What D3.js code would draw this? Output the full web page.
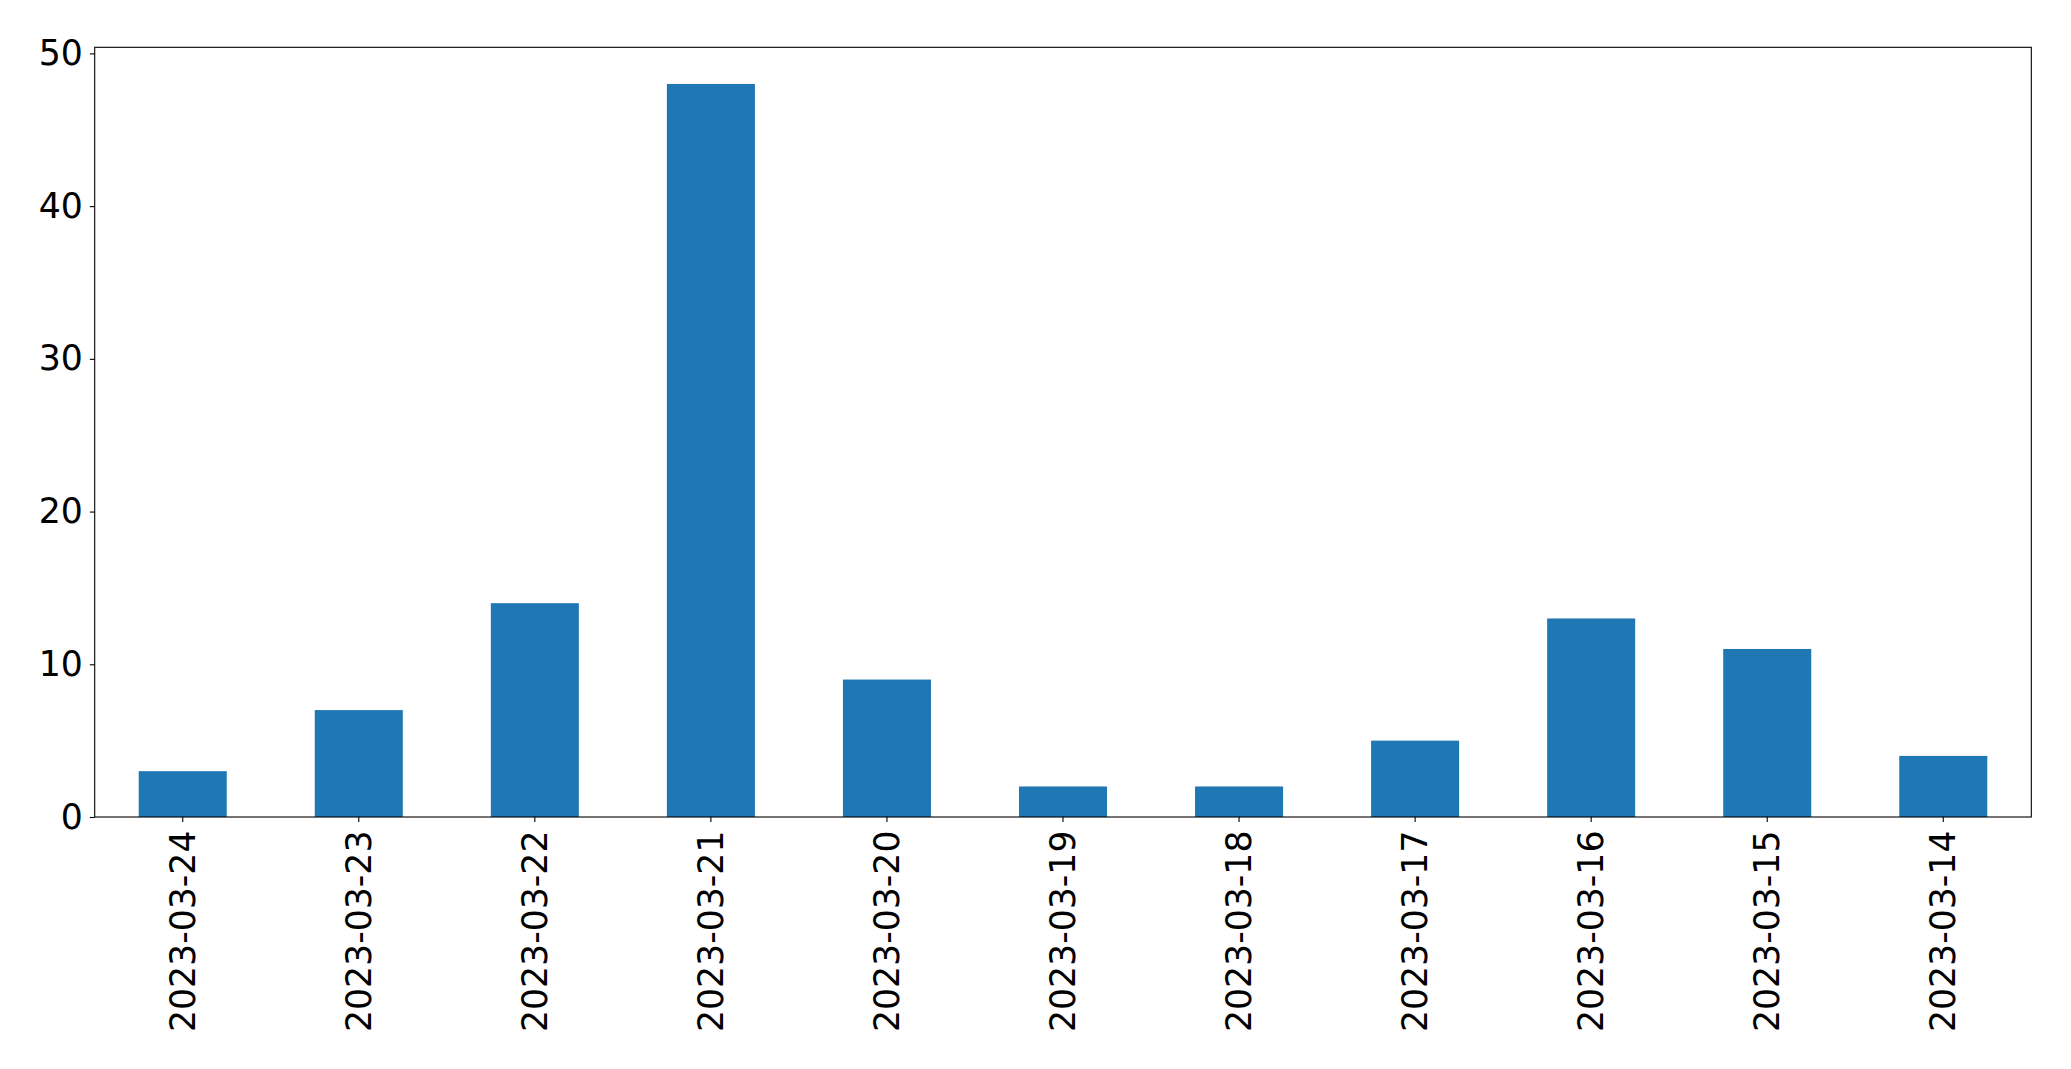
<!DOCTYPE html>
<html><head><meta charset="utf-8">
<script src="https://cdn.jsdelivr.net/npm/d3@7"></script>
<style>html,body{margin:0;padding:0;background:#fff;}svg{display:block;}</style>
</head><body>
<script>
const categories = ["2023-03-24","2023-03-23","2023-03-22","2023-03-21","2023-03-20","2023-03-19","2023-03-18","2023-03-17","2023-03-16","2023-03-15","2023-03-14"];
const values = [3,7,14,48,9,2,2,5,13,11,4];
const yTicks = [0,10,20,30,40,50];

const W = 2071, H = 1069;
const L = 94.7, R = 2031.3, T = 47.3, B = 817;
const fs = 34.7;
const svg = d3.select("body").append("svg").attr("width", W).attr("height", H);

const x = d3.scaleBand().domain(categories).range([L, R]).paddingInner(0.5).paddingOuter(0.25);
const y = d3.scaleLinear().domain([0, d3.max(values) * 1.05]).range([B, T]);

svg.append("g").selectAll("rect").data(values).join("rect")
  .attr("x", (d, i) => x(categories[i]))
  .attr("width", x.bandwidth())
  .attr("y", d => y(d))
  .attr("height", d => B - y(d))
  .attr("fill", "#1f77b4");

const font = "'DejaVu Sans', sans-serif";
// y axis
const ya = svg.append("g").attr("transform", `translate(${L},0)`)
  .call(d3.axisLeft(y).tickValues(yTicks).tickSize(4.9).tickPadding(7));
ya.select(".domain").remove();
ya.selectAll("line").attr("stroke", "#000").attr("stroke-width", 1.1);
ya.selectAll("text").attr("font-family", font).attr("font-size", fs).attr("fill", "#000");

// x axis
const xa = svg.append("g").attr("transform", `translate(0,${B})`)
  .call(d3.axisBottom(x).tickSize(4.9).tickPadding(7));
xa.select(".domain").remove();
xa.selectAll("line").attr("stroke", "#000").attr("stroke-width", 1.1);
xa.selectAll("text")
  .attr("font-family", font).attr("font-size", fs).attr("fill", "#000")
  .attr("text-anchor", "end")
  .attr("dy", null)
  .attr("dominant-baseline", "central")
  .attr("transform", "translate(0,13.5) rotate(-90)")
  .attr("y", 0).attr("x", 0);

// frame
svg.append("rect").attr("x", L).attr("y", T).attr("width", R - L).attr("height", B - T)
  .attr("fill", "none").attr("stroke", "#000").attr("stroke-width", 1.1);
</script>
</body></html>
